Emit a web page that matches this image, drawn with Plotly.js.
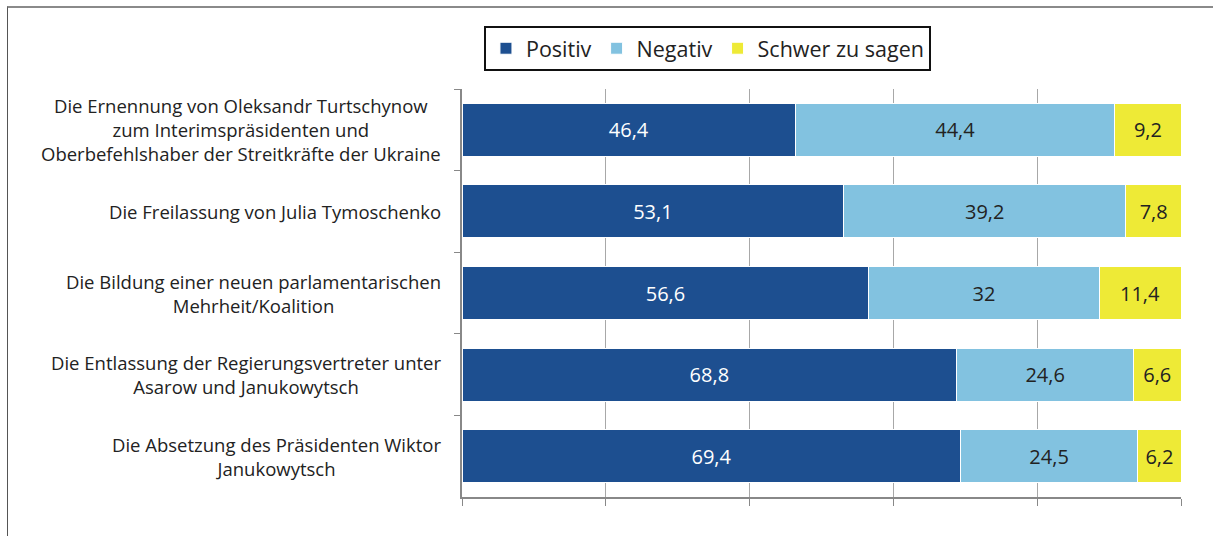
<!DOCTYPE html>
<html lang="de">
<head>
<meta charset="UTF-8">
<title>Chart</title>
<script src="https://cdn.plot.ly/plotly-3.0.1.min.js"></script>
<style>
  body { margin: 0; background: #fff; }
  #wrap { position: relative; width: 1213px; height: 536px; }
  #chart { width: 1213px; height: 536px; }
  #frame {
    position: absolute; left: 7px; top: 6px; right: 0; bottom: 0;
    border-top: 2px solid #8a8a8a; border-left: 1px solid #555;
    pointer-events: none;
  }
</style>
</head>
<body>
<div id="wrap">
  <div id="chart"></div>
  <div id="frame"></div>
</div>
<script>
// categories, top to bottom
const categories = [
  "Die Ernennung von Oleksandr Turtschynow<br>zum Interimspräsidenten und<br>Oberbefehlshaber der Streitkräfte der Ukraine",
  "Die Freilassung von Julia Tymoschenko",
  "Die Bildung einer neuen parlamentarischen<br>Mehrheit/Koalition",
  "Die Entlassung der Regierungsvertreter unter<br>Asarow und Janukowytsch",
  "Die Absetzung des Präsidenten Wiktor<br>Janukowytsch"
];
const positiv = [46.4, 53.1, 56.6, 68.8, 69.4];
const negativ = [44.4, 39.2, 32, 24.6, 24.5];
const schwer  = [9.2, 7.8, 11.4, 6.6, 6.2];

const seriesNames = ["Positiv", "Negativ", "Schwer zu sagen"];
const colors = ["#1d4f90", "#82c2e0", "#eeea36"];
const textColors = ["#ffffff", "#222222", "#222222"];

const fontFam = "'Open Sans', 'DejaVu Sans', sans-serif";

const traces = [positiv, negativ, schwer].map((vals, i) => ({
  type: "bar",
  orientation: "h",
  name: seriesNames[i],
  x: vals,
  y: categories,
  marker: { color: colors[i], line: { color: "#ffffff", width: 1 } },
  texttemplate: "%{x}",
  textposition: "inside",
  insidetextanchor: "middle",
  textangle: 0,
  textfont: { family: fontFam, size: 20, color: textColors[i] },
  hoverinfo: "x+name"
}));

// category labels, centred lines like the original
const labelNotes = categories.map(c => ({
  xref: "paper", yref: "y",
  x: 0, y: c,
  xanchor: "right", yanchor: "middle",
  xshift: -19,
  align: "center",
  showarrow: false,
  text: c,
  font: { family: fontFam, size: 18.5, color: "#222" }
}));

const layout = {
  width: 1213,
  height: 536,
  margin: { l: 462, r: 32, t: 89, b: 39 },
  paper_bgcolor: "#ffffff",
  plot_bgcolor: "#ffffff",
  barmode: "stack",
  bargap: 0.35,
  separators: ",.",
  showlegend: true,
  legend: {
    orientation: "h",
    x: 0.3414, xanchor: "center",
    y: 1.155, yanchor: "top",
    bordercolor: "#111",
    borderwidth: 2,
    font: { family: fontFam, size: 21.5, color: "#222" },
    traceorder: "normal"
  },
  xaxis: {
    range: [0, 100],
    dtick: 20,
    showgrid: true,
    gridcolor: "#a8a8a8",
    gridwidth: 1,
    zeroline: false,
    showline: true,
    linecolor: "#888",
    linewidth: 2,
    ticks: "outside",
    ticklen: 7,
    tickcolor: "#888",
    showticklabels: false,
    fixedrange: true
  },
  yaxis: {
    type: "category",
    autorange: "reversed",
    showgrid: false,
    zeroline: false,
    showline: true,
    linecolor: "#888",
    linewidth: 2,
    ticks: "outside",
    tickson: "boundaries",
    ticklen: 6,
    tickcolor: "#888",
    showticklabels: false,
    fixedrange: true
  },
  annotations: labelNotes
};

Plotly.newPlot("chart", traces, layout, { displayModeBar: false, staticPlot: true });
</script>
</body>
</html>
